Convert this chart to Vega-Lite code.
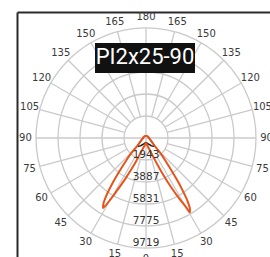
{
  "$schema": "https://vega.github.io/schema/vega-lite/v6.json",
  "width": 253,
  "height": 245,
  "autosize": {"type": "none"},
  "padding": {"left": 17, "top": 12, "right": 0, "bottom": 0},
  "background": "white",
  "config": {"view": {"stroke": null}},
  "datasets": {
    "rings": [{"r": 1943}, {"r": 3887}, {"r": 5831}, {"r": 7775}, {"r": 9719}],
    "spokes": [
      {"angle": 0, "r0": -9719, "r1": 9719},
      {"angle": 90, "r0": -9719, "r1": 9719},
      {"angle": 15, "r0": 1943, "r1": 9719},
      {"angle": 30, "r0": 1943, "r1": 9719},
      {"angle": 45, "r0": 1943, "r1": 9719},
      {"angle": 60, "r0": 1943, "r1": 9719},
      {"angle": 75, "r0": 1943, "r1": 9719},
      {"angle": 105, "r0": 1943, "r1": 9719},
      {"angle": 120, "r0": 1943, "r1": 9719},
      {"angle": 135, "r0": 1943, "r1": 9719},
      {"angle": 150, "r0": 1943, "r1": 9719},
      {"angle": 165, "r0": 1943, "r1": 9719},
      {"angle": -15, "r0": 1943, "r1": 9719},
      {"angle": -30, "r0": 1943, "r1": 9719},
      {"angle": -45, "r0": 1943, "r1": 9719},
      {"angle": -60, "r0": 1943, "r1": 9719},
      {"angle": -75, "r0": 1943, "r1": 9719},
      {"angle": -105, "r0": 1943, "r1": 9719},
      {"angle": -120, "r0": 1943, "r1": 9719},
      {"angle": -135, "r0": 1943, "r1": 9719},
      {"angle": -150, "r0": 1943, "r1": 9719},
      {"angle": -165, "r0": 1943, "r1": 9719}
    ],
    "angles": [
      {"angle": 0, "label": "0"},
      {"angle": 15, "label": "15"}, {"angle": 30, "label": "30"}, {"angle": 45, "label": "45"},
      {"angle": 60, "label": "60"}, {"angle": 75, "label": "75"}, {"angle": 90, "label": "90"},
      {"angle": 105, "label": "105"}, {"angle": 120, "label": "120"}, {"angle": 135, "label": "135"},
      {"angle": 150, "label": "150"}, {"angle": 165, "label": "165"}, {"angle": 180, "label": "180"},
      {"angle": -15, "label": "15"}, {"angle": -30, "label": "30"}, {"angle": -45, "label": "45"},
      {"angle": -60, "label": "60"}, {"angle": -75, "label": "75"}, {"angle": -90, "label": "90"},
      {"angle": -105, "label": "105"}, {"angle": -120, "label": "120"}, {"angle": -135, "label": "135"},
      {"angle": -150, "label": "150"}, {"angle": -165, "label": "165"}
    ],
    "c0": [
      {"angle": -180, "cd": 177}, {"angle": -150, "cd": 190}, {"angle": -120, "cd": 220},
      {"angle": -90, "cd": 265}, {"angle": -75, "cd": 330}, {"angle": -65, "cd": 450},
      {"angle": -55, "cd": 650}, {"angle": -48, "cd": 1000}, {"angle": -44, "cd": 1950},
      {"angle": -41, "cd": 2750}, {"angle": -39, "cd": 3600}, {"angle": -37.5, "cd": 4400},
      {"angle": -36, "cd": 5300}, {"angle": -34.5, "cd": 6200}, {"angle": -33, "cd": 6900},
      {"angle": -31.5, "cd": 7250},
      {"angle": -30, "cd": 6200}, {"angle": -29, "cd": 5400}, {"angle": -27, "cd": 4100},
      {"angle": -25, "cd": 3000}, {"angle": -23, "cd": 2200}, {"angle": -20, "cd": 1400},
      {"angle": -15, "cd": 900}, {"angle": -10, "cd": 670}, {"angle": 0, "cd": 440},
      {"angle": 10, "cd": 670}, {"angle": 15, "cd": 930}, {"angle": 20, "cd": 1500},
      {"angle": 23, "cd": 2470}, {"angle": 25, "cd": 3530}, {"angle": 27, "cd": 4860},
      {"angle": 29, "cd": 6270}, {"angle": 30, "cd": 7000}, {"angle": 30.5, "cd": 7620},
      {"angle": 32, "cd": 7300}, {"angle": 33.5, "cd": 6600}, {"angle": 35, "cd": 5600},
      {"angle": 36.5, "cd": 4600}, {"angle": 38, "cd": 3700}, {"angle": 40, "cd": 2800},
      {"angle": 43, "cd": 2000}, {"angle": 48, "cd": 1000}, {"angle": 55, "cd": 650},
      {"angle": 65, "cd": 450}, {"angle": 75, "cd": 330}, {"angle": 90, "cd": 265},
      {"angle": 120, "cd": 220}, {"angle": 150, "cd": 190}, {"angle": 180, "cd": 177}
    ],
    "c90": [
      {"angle": -180, "cd": 177}, {"angle": -120, "cd": 220}, {"angle": -90, "cd": 265},
      {"angle": -75, "cd": 330}, {"angle": -65, "cd": 450}, {"angle": -55, "cd": 650},
      {"angle": -48, "cd": 1000}, {"angle": -43, "cd": 1000}, {"angle": -35, "cd": 850},
      {"angle": -20, "cd": 550}, {"angle": 0, "cd": 400}, {"angle": 20, "cd": 550},
      {"angle": 35, "cd": 850}, {"angle": 43, "cd": 1000}, {"angle": 48, "cd": 1000},
      {"angle": 55, "cd": 650}, {"angle": 65, "cd": 450}, {"angle": 75, "cd": 330},
      {"angle": 90, "cd": 265}, {"angle": 120, "cd": 220}, {"angle": 180, "cd": 177}
    ],
    "title": [{"title": "PI2x25-90"}]
  },
  "layer": [
    {
      "data": {"name": "rings"},
      "mark": {"type": "point", "shape": "circle", "filled": false, "stroke": "#cacaca", "strokeWidth": 1.3, "opacity": 1},
      "encoding": {
        "x": {"datum": 0, "type": "quantitative", "scale": {"domain": [-11398, 10956], "nice": false, "zero": false}, "axis": {"orient": "top", "domain": true, "domainColor": "#2a2a2a", "domainWidth": 2, "labels": false, "ticks": false, "grid": false, "title": null}},
        "y": {"datum": 0, "type": "quantitative", "scale": {"domain": [-10514, 11133], "nice": false, "zero": false}, "axis": {"orient": "left", "domain": true, "domainColor": "#2a2a2a", "domainWidth": 2, "labels": false, "ticks": false, "grid": false, "title": null}},
        "size": {"field": "r", "type": "quantitative", "scale": {"type": "pow", "exponent": 2, "domain": [0, 9719], "range": [0, 48400], "zero": true}, "legend": null}
      }
    },
    {
      "data": {"name": "spokes"},
      "transform": [
        {"calculate": "datum.r0 * sin(datum.angle * PI / 180)", "as": "px"},
        {"calculate": "-datum.r0 * cos(datum.angle * PI / 180)", "as": "py"},
        {"calculate": "datum.r1 * sin(datum.angle * PI / 180)", "as": "px2"},
        {"calculate": "-datum.r1 * cos(datum.angle * PI / 180)", "as": "py2"}
      ],
      "mark": {"type": "rule", "stroke": "#cacaca", "strokeWidth": 1.3},
      "encoding": {
        "x": {"field": "px", "type": "quantitative", "scale": {"domain": [-11398, 10956], "nice": false, "zero": false}, "axis": {"orient": "top", "domain": true, "domainColor": "#2a2a2a", "domainWidth": 2, "labels": false, "ticks": false, "grid": false, "title": null}},
        "y": {"field": "py", "type": "quantitative", "scale": {"domain": [-10514, 11133], "nice": false, "zero": false}, "axis": {"orient": "left", "domain": true, "domainColor": "#2a2a2a", "domainWidth": 2, "labels": false, "ticks": false, "grid": false, "title": null}},
        "x2": {"field": "px2"},
        "y2": {"field": "py2"}
      }
    },
    {
      "data": {"name": "angles"},
      "transform": [
        {"calculate": "10650 * sin(datum.angle * PI / 180)", "as": "px"},
        {"calculate": "-10650 * cos(datum.angle * PI / 180)", "as": "py"}
      ],
      "mark": {"type": "text", "align": "center", "baseline": "middle", "font": "DejaVu Sans", "fontSize": 10, "color": "#3a3a3a"},
      "encoding": {
        "x": {"field": "px", "type": "quantitative", "scale": {"domain": [-11398, 10956], "nice": false, "zero": false}, "axis": {"orient": "top", "domain": true, "domainColor": "#2a2a2a", "domainWidth": 2, "labels": false, "ticks": false, "grid": false, "title": null}},
        "y": {"field": "py", "type": "quantitative", "scale": {"domain": [-10514, 11133], "nice": false, "zero": false}, "axis": {"orient": "left", "domain": true, "domainColor": "#2a2a2a", "domainWidth": 2, "labels": false, "ticks": false, "grid": false, "title": null}},
        "text": {"field": "label", "type": "nominal"}
      }
    },
    {
      "data": {"name": "c90"},
      "transform": [
        {"calculate": "datum.cd * sin(datum.angle * PI / 180)", "as": "px"},
        {"calculate": "-datum.cd * cos(datum.angle * PI / 180)", "as": "py"}
      ],
      "mark": {"type": "line", "interpolate": "catmull-rom", "stroke": "#1a1a1a", "strokeWidth": 1.5},
      "encoding": {
        "x": {"field": "px", "type": "quantitative", "scale": {"domain": [-11398, 10956], "nice": false, "zero": false}, "axis": {"orient": "top", "domain": true, "domainColor": "#2a2a2a", "domainWidth": 2, "labels": false, "ticks": false, "grid": false, "title": null}},
        "y": {"field": "py", "type": "quantitative", "scale": {"domain": [-10514, 11133], "nice": false, "zero": false}, "axis": {"orient": "left", "domain": true, "domainColor": "#2a2a2a", "domainWidth": 2, "labels": false, "ticks": false, "grid": false, "title": null}},
        "order": {"field": "angle", "type": "quantitative"}
      }
    },
    {
      "data": {"name": "c0"},
      "transform": [
        {"calculate": "datum.cd * sin(datum.angle * PI / 180)", "as": "px"},
        {"calculate": "-datum.cd * cos(datum.angle * PI / 180)", "as": "py"}
      ],
      "mark": {"type": "line", "interpolate": "catmull-rom", "stroke": "#e5541b", "strokeWidth": 2},
      "encoding": {
        "x": {"field": "px", "type": "quantitative", "scale": {"domain": [-11398, 10956], "nice": false, "zero": false}, "axis": {"orient": "top", "domain": true, "domainColor": "#2a2a2a", "domainWidth": 2, "labels": false, "ticks": false, "grid": false, "title": null}},
        "y": {"field": "py", "type": "quantitative", "scale": {"domain": [-10514, 11133], "nice": false, "zero": false}, "axis": {"orient": "left", "domain": true, "domainColor": "#2a2a2a", "domainWidth": 2, "labels": false, "ticks": false, "grid": false, "title": null}},
        "order": {"field": "angle", "type": "quantitative"}
      }
    },
    {
      "data": {"name": "rings"},
      "transform": [
        {"calculate": "-datum.r", "as": "py"}
      ],
      "mark": {"type": "text", "align": "center", "baseline": "bottom", "font": "DejaVu Sans", "fontSize": 10.5, "color": "#333333"},
      "encoding": {
        "x": {"datum": 0, "type": "quantitative", "scale": {"domain": [-11398, 10956], "nice": false, "zero": false}, "axis": {"orient": "top", "domain": true, "domainColor": "#2a2a2a", "domainWidth": 2, "labels": false, "ticks": false, "grid": false, "title": null}},
        "y": {"field": "py", "type": "quantitative", "scale": {"domain": [-10514, 11133], "nice": false, "zero": false}, "axis": {"orient": "left", "domain": true, "domainColor": "#2a2a2a", "domainWidth": 2, "labels": false, "ticks": false, "grid": false, "title": null}},
        "text": {"field": "r", "type": "quantitative", "format": "d"}
      }
    },
    {
      "data": {"name": "title"},
      "mark": {"type": "rect", "color": "#111111"},
      "encoding": {
        "x": {"datum": -4506, "type": "quantitative", "scale": {"domain": [-11398, 10956], "nice": false, "zero": false}, "axis": {"orient": "top", "domain": true, "domainColor": "#2a2a2a", "domainWidth": 2, "labels": false, "ticks": false, "grid": false, "title": null}},
        "x2": {"datum": 4329},
        "y": {"datum": 8394, "type": "quantitative", "scale": {"domain": [-10514, 11133], "nice": false, "zero": false}, "axis": {"orient": "left", "domain": true, "domainColor": "#2a2a2a", "domainWidth": 2, "labels": false, "ticks": false, "grid": false, "title": null}},
        "y2": {"datum": 5743}
      }
    },
    {
      "data": {"name": "title"},
      "mark": {"type": "text", "align": "center", "baseline": "alphabetic", "font": "Liberation Sans Narrow, Roboto, sans-serif", "fontSize": 22, "color": "white"},
      "encoding": {
        "x": {"datum": -88, "type": "quantitative", "scale": {"domain": [-11398, 10956], "nice": false, "zero": false}, "axis": {"orient": "top", "domain": true, "domainColor": "#2a2a2a", "domainWidth": 2, "labels": false, "ticks": false, "grid": false, "title": null}},
        "y": {"datum": 6540, "type": "quantitative", "scale": {"domain": [-10514, 11133], "nice": false, "zero": false}, "axis": {"orient": "left", "domain": true, "domainColor": "#2a2a2a", "domainWidth": 2, "labels": false, "ticks": false, "grid": false, "title": null}},
        "text": {"field": "title", "type": "nominal"}
      }
    }
  ]
}
